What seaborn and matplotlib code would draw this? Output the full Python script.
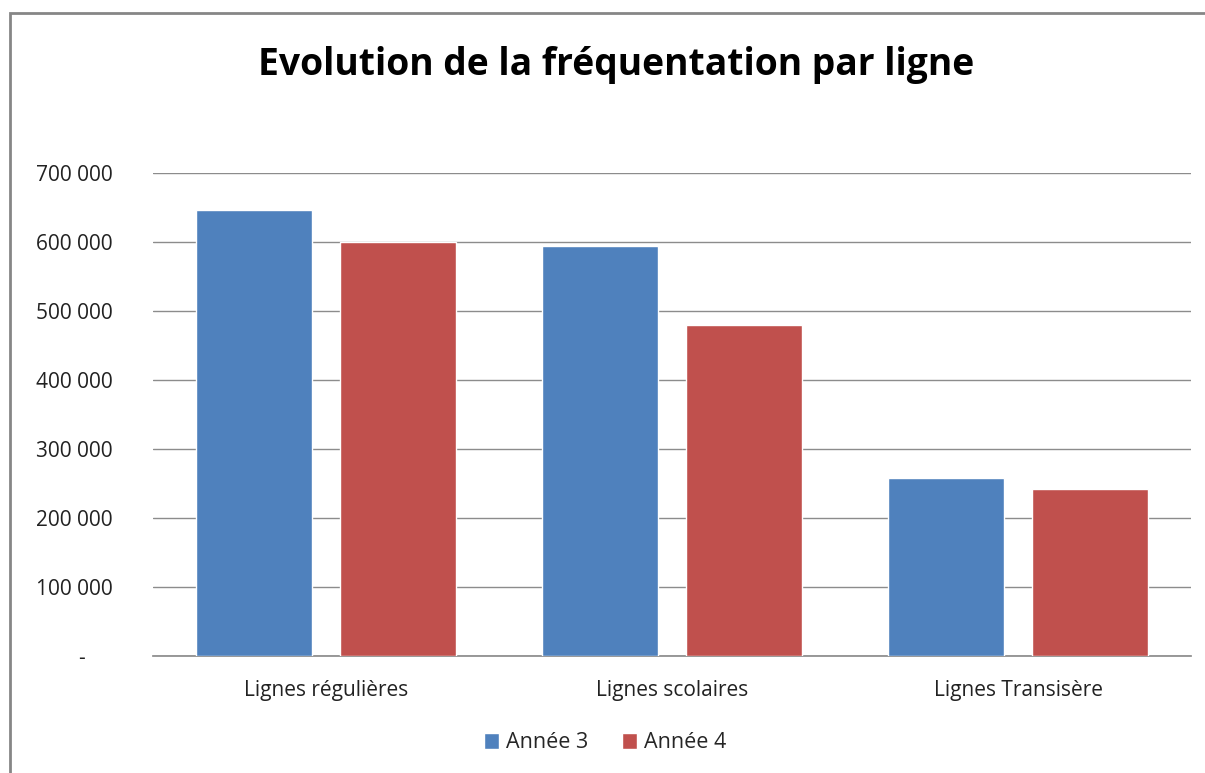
import matplotlib
matplotlib.use("Agg")
import matplotlib.pyplot as plt
from matplotlib.patches import Rectangle
from matplotlib.ticker import FuncFormatter
import pandas as pd
import seaborn as sns

# données
lignes = ['Lignes régulières', 'Lignes scolaires', 'Lignes Transisère']
annee_3 = [647000, 594000, 257500]
annee_4 = [600000, 479000, 241600]
series = ['Année 3', 'Année 4']
couleurs = ['#4F81BD', '#C0504D']

df = pd.DataFrame({
    'Ligne': lignes * 2,
    'Valeur': annee_3 + annee_4,
    'Série': [series[0]] * 3 + [series[1]] * 3,
})

sns.set_theme(style='white')
plt.rcParams['font.family'] = ['Open Sans', 'DejaVu Sans']

fig = plt.figure(figsize=(12.05, 7.73), dpi=100)
ax = fig.add_axes([153 / 1205, 1 - 656 / 773, (1191 - 153) / 1205, (656 - 173) / 773])

sns.barplot(data=df, x='Ligne', y='Valeur', hue='Série', palette=couleurs,
            width=0.833, gap=0.2, ax=ax, zorder=3, saturation=1)

ax.set_ylim(0, 700000)
ax.set_yticks(range(0, 700001, 100000))
ax.yaxis.set_major_formatter(FuncFormatter(
    lambda v, p: '-     ' if v == 0 else f'{int(v):,}'.replace(',', ' ')))
ax.grid(axis='y', color='#8c8c8c', linewidth=1, zorder=0)
ax.tick_params(axis='y', length=0, pad=29, labelsize=15, colors='#222222')
ax.tick_params(axis='x', length=0, pad=17, labelsize=15, colors='#222222')
for s in ['top', 'right', 'left']:
    ax.spines[s].set_visible(False)
ax.spines['bottom'].set_color('#8c8c8c')
ax.set_xlabel('')
ax.set_ylabel('')

leg = ax.legend(loc='center', bbox_to_anchor=(605 / 1205, 1 - 743 / 773),
                bbox_transform=fig.transFigure, ncol=2, frameon=False,
                fontsize=15.5, handlelength=0.7, handleheight=0.7,
                handletextpad=0.3, columnspacing=1.6)

fig.text(616 / 1205, 1 - 65 / 773, 'Evolution de la fréquentation par ligne',
         ha='center', va='center', fontsize=26.8, fontweight='bold', color='black')

# cadre du graphique
fig.add_artist(Rectangle((10 / 1205, -0.1), 1.2, 1 - 13 / 773 + 0.1,
                         transform=fig.transFigure, fill=False,
                         edgecolor='#868686', linewidth=2))

fig.savefig('out.png', dpi=100)
